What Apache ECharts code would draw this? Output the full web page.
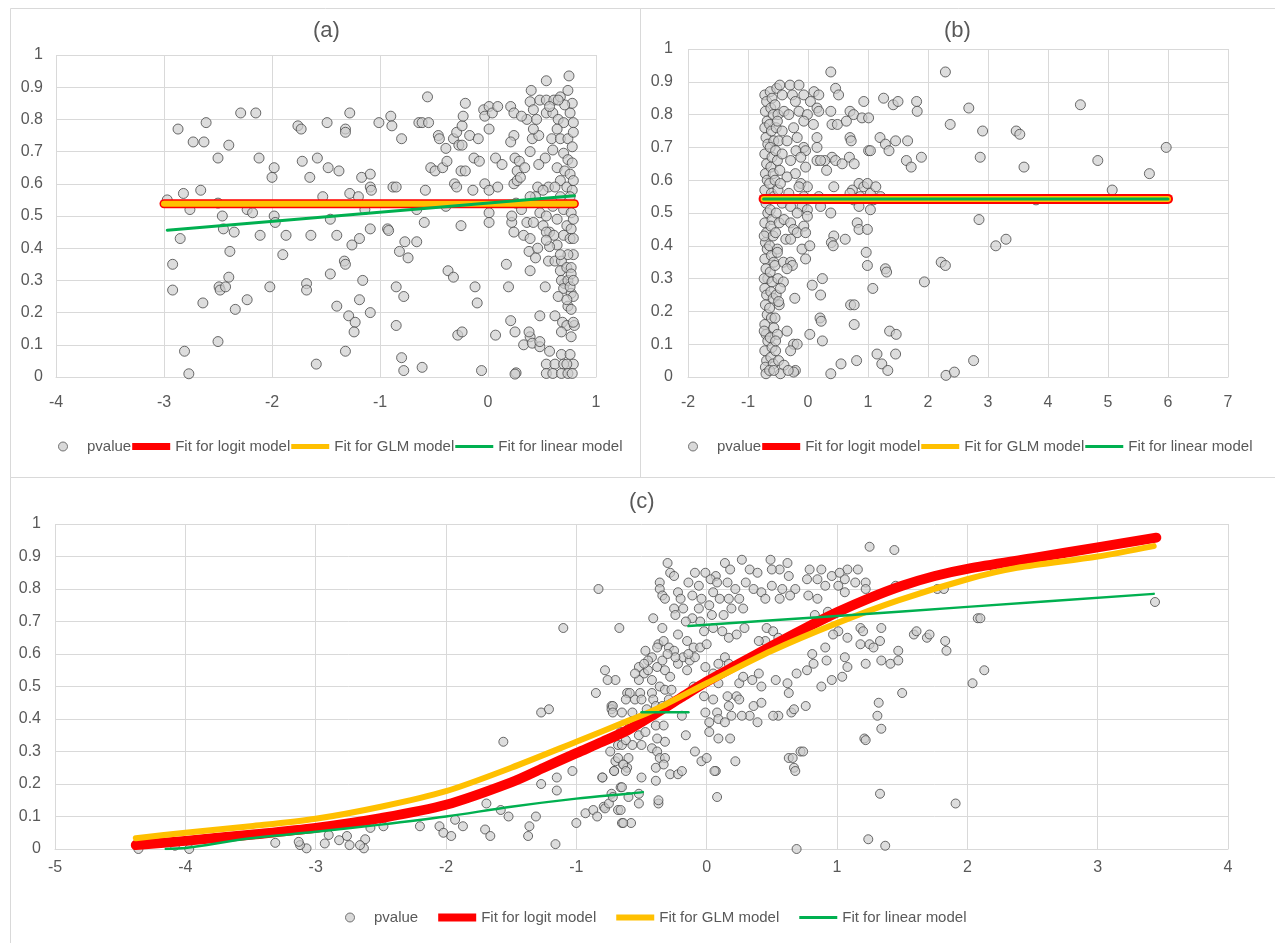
<!DOCTYPE html>
<html lang="en">
<head>
<meta charset="UTF-8">
<title>pvalue fits (a)(b)(c)</title>
<script src="https://cdn.jsdelivr.net/npm/echarts@6/dist/echarts.min.js"></script>
<style>
  html, body { margin: 0; padding: 0; background: #ffffff; }
  #chart { width: 1275px; height: 943px; }
</style>
</head>
<body>
<div id="chart"></div>
<script>
// panel titles and legend names
var panelTitles = ['(a)', '(b)', '(c)'];
var legendNames = ['pvalue', 'Fit for logit model', 'Fit for GLM model', 'Fit for linear model'];

// ---------- panel (a) ----------
var pointsA = [
  [-2.97,0.55],[-2.87,0.77],[-2.82,0.57],[-2.76,0.52],[-2.73,0.73],[-2.66,0.58],[-2.63,0.73],[-2.61,0.79],
  [-2.85,0.43],[-2.92,0.35],[-2.92,0.27],[-2.81,0.08],[-2.77,0.01],[-2.64,0.23],[-2.50,0.68],[-2.40,0.72],
  [-2.46,0.50],[-2.45,0.46],[-2.50,0.54],[-2.35,0.45],[-2.39,0.39],[-2.49,0.28],[-2.48,0.27],[-2.43,0.28],
  [-2.40,0.31],[-2.34,0.21],[-2.50,0.11],[-2.23,0.24],[-2.29,0.82],[-2.15,0.82],[-2.12,0.68],[-2.23,0.52],
  [-2.18,0.51],[-2.11,0.44],[-2.02,0.28],[-2.00,0.62],[-1.98,0.65],[-1.98,0.50],[-1.97,0.48],[-1.90,0.38],
  [-1.87,0.44],[-1.76,0.78],[-1.73,0.77],[-1.72,0.67],[-1.65,0.62],[-1.58,0.68],[-1.64,0.44],[-1.68,0.29],
  [-1.68,0.27],[-1.59,0.04],[-1.53,0.56],[-1.49,0.79],[-1.48,0.65],[-1.46,0.49],[-1.46,0.32],
  [-1.28,0.82],[-1.32,0.77],[-1.32,0.76],[-1.38,0.64],[-1.28,0.57],[-1.20,0.56],[-1.17,0.62],[-1.09,0.63],
  [-1.09,0.59],[-1.08,0.58],[-1.14,0.52],[-1.40,0.44],[-1.19,0.43],[-1.26,0.41],[-1.09,0.46],[-1.33,0.36],
  [-1.32,0.35],[-1.16,0.30],[-1.40,0.22],[-1.19,0.24],[-1.29,0.19],[-1.23,0.17],[-1.24,0.14],[-1.09,0.20],
  [-1.32,0.08],[-1.01,0.79],[-0.90,0.81],[-0.89,0.78],[-0.80,0.74],[-0.93,0.46],[-0.92,0.455],[-0.88,0.59],
  [-0.85,0.59],[-0.85,0.28],[-0.85,0.16],[-0.82,0.39],[-0.77,0.42],[-0.74,0.37],[-0.78,0.25],[-0.80,0.06],
  [-0.78,0.02],[-0.66,0.52],[-0.59,0.48],[-0.66,0.42],[-0.64,0.79],[-0.61,0.79],[-0.56,0.87],[-0.55,0.79],
  [-0.58,0.58],[-0.61,0.03],[-0.53,0.65],[-0.49,0.64],[-0.46,0.75],[-0.45,0.74],[-0.42,0.65],[-0.39,0.71],
  [-0.38,0.67],[-0.39,0.53],[-0.37,0.33],[-0.32,0.31],[-0.32,0.74],[-0.29,0.76],[-0.24,0.78],[-0.27,0.72],
  [-0.24,0.72],[-0.23,0.81],[-0.21,0.85],[-0.31,0.60],[-0.29,0.59],[-0.25,0.64],[-0.21,0.64],[-0.25,0.47],
  [-0.28,0.13],[-0.24,0.14],[-0.17,0.75],[-0.13,0.68],[-0.08,0.67],[-0.14,0.58],[-0.12,0.28],[-0.10,0.23],
  [-0.06,0.02],[-0.09,0.74],[-0.04,0.83],[-0.03,0.81],[0.01,0.84],[0.04,0.82],[0.01,0.77],[0.09,0.84],
  [-0.03,0.60],[0.01,0.58],[0.01,0.51],[0.01,0.48],[0.07,0.68],[0.13,0.66],[0.09,0.59],[0.19,0.28],
  [0.17,0.35],[0.07,0.13],[0.21,0.84],[0.24,0.82],[0.24,0.75],[0.21,0.73],[0.25,0.68],[0.29,0.67],
  [0.27,0.64],[0.24,0.60],[0.27,0.61],[0.30,0.62],[0.34,0.65],[0.26,0.54],[0.22,0.48],[0.24,0.45],
  [0.22,0.50],[0.31,0.52],[0.36,0.48],[0.33,0.44],[0.39,0.43],[0.38,0.39],[0.39,0.33],[0.44,0.37],
  [0.46,0.40],[0.53,0.28],[0.26,0.013],[0.25,0.009],[0.21,0.175],[0.25,0.14],[0.33,0.10],[0.39,0.125],
  [0.41,0.105],[0.48,0.19],[0.48,0.094],[0.38,0.14],[0.40,0.89],[0.39,0.855],[0.54,0.92],[0.42,0.83],
  [0.48,0.86],[0.54,0.86],[0.61,0.86],[0.67,0.87],[0.75,0.935],[0.74,0.89],[0.41,0.74],[0.47,0.75],
  [0.53,0.68],[0.42,0.77],[0.45,0.80],[0.36,0.80],[0.31,0.81],[0.39,0.70],[0.47,0.66],[0.46,0.59],
  [0.56,0.59],[0.51,0.58],[0.44,0.56],[0.39,0.56],[0.48,0.51],[0.54,0.50],[0.42,0.48],[0.51,0.47],
  [0.57,0.45],[0.54,0.45],[0.61,0.44],[0.64,0.41],[0.56,0.36],[0.62,0.36],[0.68,0.36],[0.67,0.33],
  [0.71,0.29],[0.68,0.30],[0.70,0.275],[0.65,0.25],[0.74,0.22],[0.77,0.26],[0.74,0.30],[0.73,0.34],
  [0.77,0.34],[0.62,0.19],[0.69,0.17],[0.73,0.16],[0.80,0.16],[0.68,0.14],[0.77,0.125],[0.57,0.08],
  [0.68,0.07],[0.76,0.07],[0.79,0.04],[0.54,0.04],[0.62,0.04],[0.70,0.04],[0.73,0.04],[0.54,0.011],
  [0.60,0.011],[0.68,0.011],[0.74,0.011],[0.78,0.011],[0.48,0.11],
  [0.54,0.82],[0.60,0.82],[0.65,0.80],[0.70,0.79],[0.76,0.82],[0.78,0.85],[0.71,0.845],[0.64,0.77],
  [0.59,0.74],[0.67,0.74],[0.74,0.74],[0.78,0.715],[0.60,0.705],[0.70,0.695],[0.74,0.675],[0.78,0.665],
  [0.64,0.65],[0.71,0.64],[0.76,0.63],[0.67,0.61],[0.62,0.59],[0.73,0.59],[0.78,0.58],[0.67,0.56],
  [0.76,0.56],[0.60,0.53],[0.70,0.52],[0.77,0.51],[0.64,0.49],[0.73,0.47],[0.77,0.46],[0.70,0.44],
  [0.76,0.43],[0.79,0.38],[0.74,0.38],[0.77,0.32],[0.76,0.28],[0.79,0.25],[0.73,0.24],[0.77,0.21],
  [0.65,0.86],[0.57,0.84],[0.79,0.79],[0.79,0.76],[0.79,0.61],[0.79,0.49],[0.79,0.43],[0.79,0.30],
  [0.79,0.17],[0.67,0.38],[0.57,0.405],[0.54,0.425]
];
var logitA = [[-3.0,0.538],[0.8,0.538]];
var glmA = [[-3.0,0.538],[0.8,0.538]];
var linearA = [[-2.97,0.456],[0.8,0.563]];

// ---------- panel (b) ----------
var pointsB = [
  [-0.72,0.86],[-0.69,0.84],[-0.71,0.81],[-0.68,0.78],[-0.72,0.76],[-0.70,0.73],[-0.67,0.71],[-0.72,0.68],
  [-0.69,0.65],[-0.71,0.62],[-0.68,0.60],[-0.72,0.57],[-0.70,0.53],[-0.67,0.50],[-0.72,0.47],[-0.69,0.44],
  [-0.71,0.41],[-0.68,0.39],[-0.72,0.36],[-0.70,0.33],[-0.67,0.30],[-0.72,0.27],[-0.69,0.25],[-0.71,0.22],
  [-0.68,0.19],[-0.72,0.16],[-0.70,0.13],[-0.67,0.11],[-0.72,0.08],[-0.69,0.05],[-0.71,0.03],[-0.70,0.01],
  [-0.73,0.14],[-0.73,0.43],[-0.73,0.30],
  [-0.63,0.87],[-0.60,0.85],[-0.62,0.82],[-0.58,0.80],[-0.64,0.77],[-0.61,0.75],[-0.57,0.72],[-0.63,0.70],
  [-0.60,0.67],[-0.62,0.64],[-0.58,0.62],[-0.64,0.59],[-0.61,0.56],[-0.57,0.55],[-0.63,0.51],[-0.60,0.48],
  [-0.62,0.46],[-0.58,0.43],[-0.64,0.40],[-0.61,0.37],[-0.57,0.35],[-0.63,0.32],[-0.60,0.29],[-0.62,0.26],
  [-0.58,0.24],[-0.64,0.21],[-0.61,0.18],[-0.57,0.15],[-0.63,0.12],[-0.60,0.09],[-0.62,0.06],[-0.58,0.04],
  [-0.64,0.02],
  [-0.52,0.88],[-0.55,0.83],[-0.50,0.80],[-0.53,0.76],[-0.49,0.72],[-0.54,0.69],[-0.51,0.66],[-0.47,0.63],
  [-0.55,0.60],[-0.50,0.57],[-0.53,0.50],[-0.48,0.47],[-0.54,0.44],[-0.51,0.39],[-0.55,0.34],[-0.50,0.30],
  [-0.53,0.25],[-0.48,0.22],[-0.55,0.18],[-0.51,0.13],[-0.54,0.08],[-0.49,0.05],
  [-0.47,0.89],[-0.30,0.89],[-0.15,0.89],[-0.43,0.86],[-0.26,0.86],[-0.07,0.86],[0.10,0.87],[0.18,0.86],
  [0.04,0.84],[-0.21,0.84],[-0.40,0.81],[-0.32,0.80],[-0.15,0.81],[-0.01,0.80],[0.15,0.82],[0.18,0.81],
  [0.09,0.77],[-0.07,0.78],[-0.24,0.76],[-0.43,0.75],[-0.51,0.78],[-0.35,0.72],[-0.18,0.73],[0.15,0.73],
  [-0.07,0.70],[-0.20,0.69],[-0.04,0.69],[0.15,0.70],[-0.43,0.68],[-0.29,0.66],[-0.12,0.67],[0.15,0.66],
  [-0.04,0.64],[-0.21,0.62],[-0.35,0.61],[-0.12,0.59],[-0.46,0.59],[-0.01,0.58],[-0.15,0.58],[-0.32,0.56],
  [-0.07,0.55],[-0.43,0.53],[-0.29,0.52],[-0.10,0.52],[-0.01,0.51],[-0.18,0.50],[-0.01,0.49],[-0.40,0.48],
  [-0.29,0.47],[-0.07,0.46],[-0.24,0.45],[-0.18,0.44],[-0.04,0.44],[-0.37,0.42],[-0.29,0.42],[-0.10,0.39],
  [0.03,0.40],[-0.51,0.38],[-0.41,0.35],[-0.29,0.35],[-0.26,0.34],[-0.35,0.33],[-0.04,0.36],[-0.41,0.29],
  [-0.46,0.27],[-0.22,0.24],[-0.49,0.23],[-0.35,0.14],[-0.54,0.11],[-0.24,0.10],[-0.18,0.10],[-0.29,0.08],
  [-0.21,0.02],[-0.24,0.015],[-0.40,0.036],[-0.46,0.01],[-0.57,0.02],[-0.33,0.02],
  [0.38,0.93],[0.46,0.88],[0.51,0.86],[0.38,0.81],[0.40,0.77],[0.49,0.77],[0.40,0.67],[0.46,0.66],
  [0.28,0.66],[0.21,0.66],[0.31,0.63],[0.43,0.58],[0.18,0.55],[0.38,0.50],[0.21,0.52],[0.43,0.43],
  [0.39,0.41],[0.42,0.40],[0.62,0.42],[0.07,0.28],[0.24,0.30],[0.21,0.25],[0.20,0.18],[0.22,0.17],
  [0.24,0.11],[0.03,0.13],[0.38,0.01],[0.55,0.04],[0.70,0.81],[0.76,0.80],[0.64,0.78],[0.90,0.79],
  [1.01,0.79],[0.93,0.84],[0.70,0.73],[0.72,0.72],[0.57,0.65],[0.69,0.67],[0.77,0.65],[0.74,0.57],
  [0.70,0.56],[0.85,0.59],[0.87,0.55],[0.93,0.58],[0.99,0.59],[1.04,0.56],[1.13,0.58],[1.21,0.55],
  [1.09,0.54],[0.76,0.54],[0.85,0.52],[1.04,0.51],[0.82,0.47],[0.85,0.45],[0.99,0.45],[0.97,0.38],
  [0.99,0.34],[1.08,0.27],[0.71,0.22],[0.77,0.22],[0.77,0.16],[0.81,0.05],[1.01,0.69],[1.04,0.69],
  [1.20,0.73],[1.29,0.71],[1.35,0.69],[1.46,0.72],[1.26,0.85],[1.42,0.83],[1.50,0.84],[1.81,0.84],
  [1.82,0.81],[1.66,0.72],[1.64,0.66],[1.72,0.64],[1.89,0.67],[1.29,0.33],[1.31,0.32],[1.94,0.29],
  [1.36,0.14],[1.47,0.13],[1.15,0.07],[1.23,0.04],[1.33,0.02],[1.46,0.07],[2.29,0.93],[2.37,0.77],
  [2.22,0.35],[2.29,0.34],[2.30,0.005],[2.44,0.015],[2.68,0.82],[2.91,0.75],[2.87,0.67],[2.85,0.48],
  [2.76,0.05],[3.13,0.40],[3.30,0.42],[3.47,0.75],[3.53,0.74],[3.60,0.64],[3.80,0.54],[4.54,0.83],
  [4.83,0.66],[5.07,0.57],[5.69,0.62],[5.97,0.70]
];
var logitB = [[-0.74,0.543],[6.0,0.543]];
var glmB = [[-0.74,0.543],[6.0,0.543]];
var linearB = [[-0.74,0.543],[6.0,0.543]];

// ---------- panel (c) ----------
var pointsC = [
  [1.25,0.93],[1.44,0.92],[-0.30,0.88],[-0.28,0.85],[-0.25,0.84],[-0.36,0.82],[-0.36,0.80],[-0.34,0.78],
  [-0.32,0.77],[-0.09,0.85],[-0.01,0.85],[0.07,0.84],[0.14,0.88],[0.18,0.86],[0.27,0.89],[0.33,0.86],
  [0.39,0.85],[0.49,0.89],[0.62,0.88],[0.56,0.86],[0.50,0.86],[0.63,0.84],[0.79,0.86],[0.88,0.86],
  [0.96,0.84],[1.08,0.86],[1.16,0.86],[1.06,0.83],[1.02,0.85],[0.85,0.83],[0.77,0.83],
  [-0.22,0.79],[-0.14,0.82],[-0.06,0.81],[0.03,0.83],[0.08,0.82],[0.16,0.82],[0.22,0.80],[0.30,0.82],
  [0.36,0.80],[0.42,0.79],[0.45,0.77],[0.58,0.80],[0.68,0.80],[0.50,0.81],[0.56,0.77],[0.64,0.78],
  [0.78,0.78],[0.85,0.77],[0.91,0.81],[1.01,0.81],[1.06,0.79],[1.14,0.82],[1.22,0.82],[1.22,0.80],
  [1.45,0.81],[1.77,0.80],[2.21,0.86],
  [-0.25,0.74],[-0.18,0.74],[-0.20,0.77],[-0.11,0.78],[-0.04,0.77],[0.02,0.75],[0.05,0.79],[0.10,0.77],
  [0.17,0.77],[0.25,0.77],[0.28,0.74],[0.19,0.74],[0.13,0.72],[0.04,0.72],[-0.05,0.70],[-0.11,0.71],
  [-0.41,0.71],[-0.34,0.68],[-0.67,0.68],[-0.83,0.80],[-0.02,0.67],[0.05,0.68],[0.12,0.67],[0.17,0.65],
  [0.23,0.66],[0.29,0.68],[0.46,0.68],[0.51,0.67],[0.55,0.65],[0.45,0.64],[0.40,0.64],[0.83,0.72],
  [0.93,0.73],[1.01,0.67],[0.97,0.66],[1.18,0.68],[1.20,0.67],[1.34,0.68],[2.08,0.71],[1.08,0.65],
  [1.18,0.63],[1.25,0.63],[1.33,0.64],[1.28,0.62],[1.59,0.66],[1.69,0.65],[1.71,0.66],[1.83,0.64],
  [1.84,0.61],[-0.47,0.61],[-0.37,0.63],[-0.33,0.64],[-0.29,0.62],[-0.22,0.66],[-0.15,0.64],[-0.10,0.62],
  [-0.25,0.61],
  [-0.78,0.55],[-0.70,0.52],[-0.76,0.52],[-0.61,0.48],[-0.55,0.46],[-0.52,0.56],[-0.48,0.54],[-0.45,0.55],
  [-0.42,0.52],[-0.38,0.56],[-0.34,0.58],[-0.32,0.55],[-0.36,0.50],[-0.28,0.53],[-0.22,0.57],[-0.18,0.59],
  [-0.13,0.58],[-0.15,0.55],[-0.09,0.59],[-0.01,0.56],[0.05,0.54],[0.09,0.57],[0.14,0.59],[0.17,0.57],
  [-0.52,0.52],[-0.42,0.48],[-0.51,0.48],[-0.41,0.46],[-0.32,0.49],[-0.27,0.49],[-0.73,0.44],[-0.73,0.43],
  [-0.10,0.50],[-0.02,0.47],[0.05,0.46],[0.09,0.51],[0.16,0.47],[0.23,0.47],[0.25,0.51],[0.28,0.53],
  [0.35,0.52],[0.40,0.54],[0.42,0.50],[0.36,0.44],[0.42,0.45],[0.53,0.52],[0.62,0.51],[0.63,0.48],
  [0.69,0.54],[0.77,0.55],[0.82,0.57],[0.81,0.60],[0.88,0.50],[0.91,0.62],[0.92,0.58],[0.96,0.52],
  [1.04,0.53],[1.06,0.59],[1.08,0.56],[1.22,0.57],[1.34,0.58],[1.41,0.57],[1.47,0.58],[1.47,0.61],
  [1.50,0.48],[2.04,0.51],[2.13,0.55],[0.55,0.41],[0.51,0.41],[0.65,0.42],[0.76,0.44],[0.67,0.43],
  [1.32,0.45],[1.31,0.41],[1.34,0.37],[1.21,0.34],[0.33,0.41],[0.39,0.39],[0.27,0.41],[0.19,0.41],
  [0.17,0.44],[0.25,0.46],[0.08,0.42],[0.02,0.39],[0.09,0.40],[0.14,0.39],[0.02,0.36],[0.09,0.34],
  [0.18,0.34],[-0.16,0.35],[-0.19,0.41],
  [-0.68,0.32],[-0.74,0.30],[-0.70,0.27],[-0.64,0.26],[-0.60,0.28],[-0.57,0.32],[-0.52,0.35],[-0.47,0.36],
  [-0.39,0.38],[-0.33,0.38],[-0.50,0.32],[-0.42,0.31],[-0.38,0.30],[-0.36,0.28],[-0.32,0.28],[-0.39,0.25],
  [-0.33,0.26],[-0.61,0.25],[-0.71,0.24],[-0.80,0.22],[-0.50,0.22],[-0.39,0.21],[-0.28,0.23],[-0.22,0.23],
  [-0.09,0.30],[-0.04,0.27],[0.00,0.28],[0.07,0.24],[0.22,0.27],[0.63,0.28],[0.72,0.30],[0.67,0.25],
  [-0.66,0.19],[-0.73,0.17],[-0.60,0.16],[-0.52,0.17],[-0.52,0.14],[-0.37,0.14],[0.08,0.16],[-0.79,0.13],
  [-0.68,0.12],[-0.65,0.08],[-0.58,0.08],[1.33,0.17],[1.91,0.14],[1.24,0.03],[1.37,0.01],[0.69,0.0],
  [-0.50,0.46],[-0.46,0.43],[-0.39,0.44],[-0.34,0.44],[-0.29,0.46],[-0.24,0.59],[-0.14,0.60],[-0.42,0.59],
  [-0.38,0.62],[-0.30,0.60],[-0.45,0.58],[-0.48,0.57],[-0.55,0.54],[-0.59,0.48],[-0.62,0.46],[-0.65,0.42],
  [-0.57,0.42],[-0.52,0.40],[-0.60,0.37],[-0.66,0.36],[-0.32,0.33],[-0.38,0.34],[-0.01,0.42],[-0.05,0.62],
  [0.00,0.63],[-0.06,0.74],[-0.16,0.70],[-0.24,0.72],
  [-1.10,0.68],[-1.27,0.42],[-1.21,0.43],[-1.56,0.33],[-1.27,0.20],[-1.15,0.22],[-1.15,0.18],[-1.03,0.24],
  [-1.69,0.14],[-1.58,0.12],[-1.52,0.10],[-1.31,0.10],[-1.36,0.07],[-1.37,0.04],[-1.70,0.06],[-1.66,0.04],
  [-1.87,0.07],[-1.93,0.09],[-2.05,0.07],[-2.02,0.05],[-1.96,0.04],[-2.20,0.07],[-1.16,0.015],[-2.48,0.07],
  [-2.58,0.065],[-2.62,0.03],[-2.63,0.002],[-2.66,0.012],[-2.74,0.012],[-2.76,0.04],[-2.82,0.027],[-2.90,0.043],
  [-2.93,0.017],[-3.07,0.002],[-3.12,0.012],[-3.13,0.022],[-3.31,0.019],[-3.97,0.0],[-4.36,0.0],[-4.08,0.01],
  [-1.00,0.08],[-0.93,0.11],[-0.87,0.12],[-0.84,0.10],[-0.80,0.22],[-0.78,0.125],[-0.75,0.14],[-0.71,0.24],
  [-0.68,0.28],[-0.64,0.26],[-0.62,0.24],[-0.72,0.16],[-0.65,0.19],[-0.64,0.08],[-0.66,0.12],[-0.85,0.48],
  [-0.72,0.44],[-0.72,0.42],[-0.65,0.32],[-0.62,0.335],
  [2.10,0.71],[1.61,0.67],[1.82,0.80],[3.44,0.76],[1.22,0.335],[0.66,0.28],[0.74,0.30],[0.68,0.24],
  [0.06,0.24],[-0.19,0.24],[-0.37,0.15]
];
var logitC = [
  [-4.38,0.012],[-4.0,0.025],[-3.5,0.044],[-3.0,0.065],[-2.5,0.095],[-2.0,0.136],[-1.5,0.205],[-1.25,0.25],
  [-1.0,0.295],[-0.8,0.33],[-0.6,0.367],[-0.4,0.415],[-0.2,0.465],[0.0,0.515],[0.25,0.57],[0.5,0.625],
  [0.75,0.678],[1.0,0.728],[1.25,0.772],[1.5,0.81],[1.75,0.84],[2.0,0.862],[2.5,0.895],[3.0,0.928],[3.45,0.958]
];
var glmC = [
  [-4.38,0.033],[-4.0,0.05],[-3.5,0.07],[-3.0,0.093],[-2.5,0.13],[-2.0,0.178],[-1.5,0.25],[-1.0,0.33],
  [-0.6,0.395],[-0.39,0.43],[0.0,0.51],[0.5,0.61],[1.0,0.695],[1.47,0.765],[2.0,0.83],[2.38,0.865],
  [3.0,0.90],[3.43,0.932]
];
var linearC1 = [[-4.15,0.0],[-4.0,0.003],[-3.5,0.033],[-3.0,0.053],[-2.5,0.075],[-2.0,0.10],[-1.5,0.13],[-1.0,0.155],[-0.58,0.171],[-0.49,0.175]];
var linearC2 = [[-0.50,0.421],[-0.14,0.421]];
var linearC3 = [[-0.14,0.686],[1.0,0.717],[2.0,0.745],[3.43,0.785]];

// ---------- drawing ----------
var font = 'Liberation Sans, Arial, sans-serif';
var txt = '#595959';
var gridCol = '#d9d9d9';
var red = '#ff0000', orange = '#ffc000', green = '#00b050';

var chart = echarts.init(document.getElementById('chart'));

function xAx(gi, min, max, margin) {
  return {
    type: 'value', gridIndex: gi, min: min, max: max, interval: 1,
    axisLine: { show: true, lineStyle: { color: gridCol } },
    axisTick: { show: false },
    axisLabel: { color: txt, fontSize: 16, fontFamily: font, margin: margin },
    splitLine: { show: true, lineStyle: { color: gridCol, width: 1 } }
  };
}
function yAx(gi, margin) {
  return {
    type: 'value', gridIndex: gi, min: 0, max: 1, interval: 0.1,
    axisLine: { show: false },
    axisTick: { show: false },
    axisLabel: { color: txt, fontSize: 16, fontFamily: font, margin: margin },
    splitLine: { show: true, lineStyle: { color: gridCol, width: 1 } }
  };
}
function scat(i, data, size) {
  return {
    type: 'scatter', name: legendNames[0], xAxisIndex: i, yAxisIndex: i, data: data,
    symbol: 'circle', symbolSize: size,
    itemStyle: { color: 'rgba(205,205,205,0.85)', borderColor: '#474747', borderWidth: 1 }
  };
}
function fit(i, k, data, color, width) {
  return {
    type: 'line', name: legendNames[k], xAxisIndex: i, yAxisIndex: i, data: data,
    symbol: 'none', smooth: 0.3, color: color,
    lineStyle: { color: color, width: width, cap: 'round', join: 'round' }
  };
}
function legendItems(w1, w2, w3) {
  return [
    { name: legendNames[0], icon: 'circle',
      itemStyle: { color: '#d0d0d0', borderColor: '#555555', borderWidth: 1 } },
    { name: legendNames[1], icon: 'path://M0,0L38,0L38,' + w1 + 'L0,' + w1 + 'Z', itemStyle: { color: red, borderWidth: 0 } },
    { name: legendNames[2], icon: 'path://M0,0L38,0L38,' + w2 + 'L0,' + w2 + 'Z', itemStyle: { color: orange, borderWidth: 0 } },
    { name: legendNames[3], icon: 'path://M0,0L38,0L38,' + w3 + 'L0,' + w3 + 'Z', itemStyle: { color: green, borderWidth: 0 } }
  ];
}
function legendAt(left, top, gap, items) {
  return {
    left: left, top: top, orient: 'horizontal', itemWidth: 38, itemHeight: 9, itemGap: gap,
    padding: 0, symbolKeepAspect: true, selectedMode: false,
    textStyle: { color: txt, fontSize: 15, fontFamily: font },
    data: items
  };
}
function titleAt(text, left, top) {
  return { text: text, left: left, top: top, padding: 0,
    textStyle: { color: txt, fontSize: 22, fontWeight: 'normal', fontFamily: font } };
}

var option = {
  backgroundColor: '#ffffff',
  animation: false,
  title: [
    titleAt(panelTitles[0], 313, 20),
    titleAt(panelTitles[1], 944, 20),
    titleAt(panelTitles[2], 629, 491)
  ],
  legend: [
    legendAt(58, 439, 1, legendItems(7, 5, 3)),
    legendAt(688, 439, 1, legendItems(7, 5, 3)),
    legendAt(345, 910, 20, legendItems(8, 6, 3))
  ],
  graphic: [
    { type: 'rect', shape: { x: 10.5, y: 8.5, width: 630, height: 469 }, style: { fill: 'none', stroke: gridCol, lineWidth: 1 }, silent: true },
    { type: 'rect', shape: { x: 640.5, y: 8.5, width: 640, height: 469 }, style: { fill: 'none', stroke: gridCol, lineWidth: 1 }, silent: true },
    { type: 'rect', shape: { x: 10.5, y: 477.5, width: 1270, height: 470 }, style: { fill: 'none', stroke: gridCol, lineWidth: 1 }, silent: true }
  ],
  grid: [
    { left: 56, top: 55, width: 540, height: 322 },
    { left: 688, top: 49, width: 540, height: 328 },
    { left: 55, top: 524, width: 1173, height: 325 }
  ],
  xAxis: [xAx(0, -4, 1, 18), xAx(1, -2, 7, 18), xAx(2, -5, 4, 11)],
  yAxis: [yAx(0, 13), yAx(1, 15), yAx(2, 14)],
  series: [
    scat(0, pointsA, 10),
    fit(0, 1, logitA, red, 9),
    fit(0, 2, glmA, orange, 6),
    fit(0, 3, linearA, green, 3),
    scat(1, pointsB, 10),
    fit(1, 1, logitB, red, 10),
    fit(1, 2, glmB, orange, 6),
    fit(1, 3, linearB, green, 3),
    scat(2, pointsC, 9),
    fit(2, 1, logitC, red, 10),
    fit(2, 2, glmC, orange, 6),
    fit(2, 3, linearC1, green, 2.5),
    fit(2, 3, linearC2, green, 2.5),
    fit(2, 3, linearC3, green, 2.5)
  ]
};

chart.setOption(option);
</script>
</body>
</html>
